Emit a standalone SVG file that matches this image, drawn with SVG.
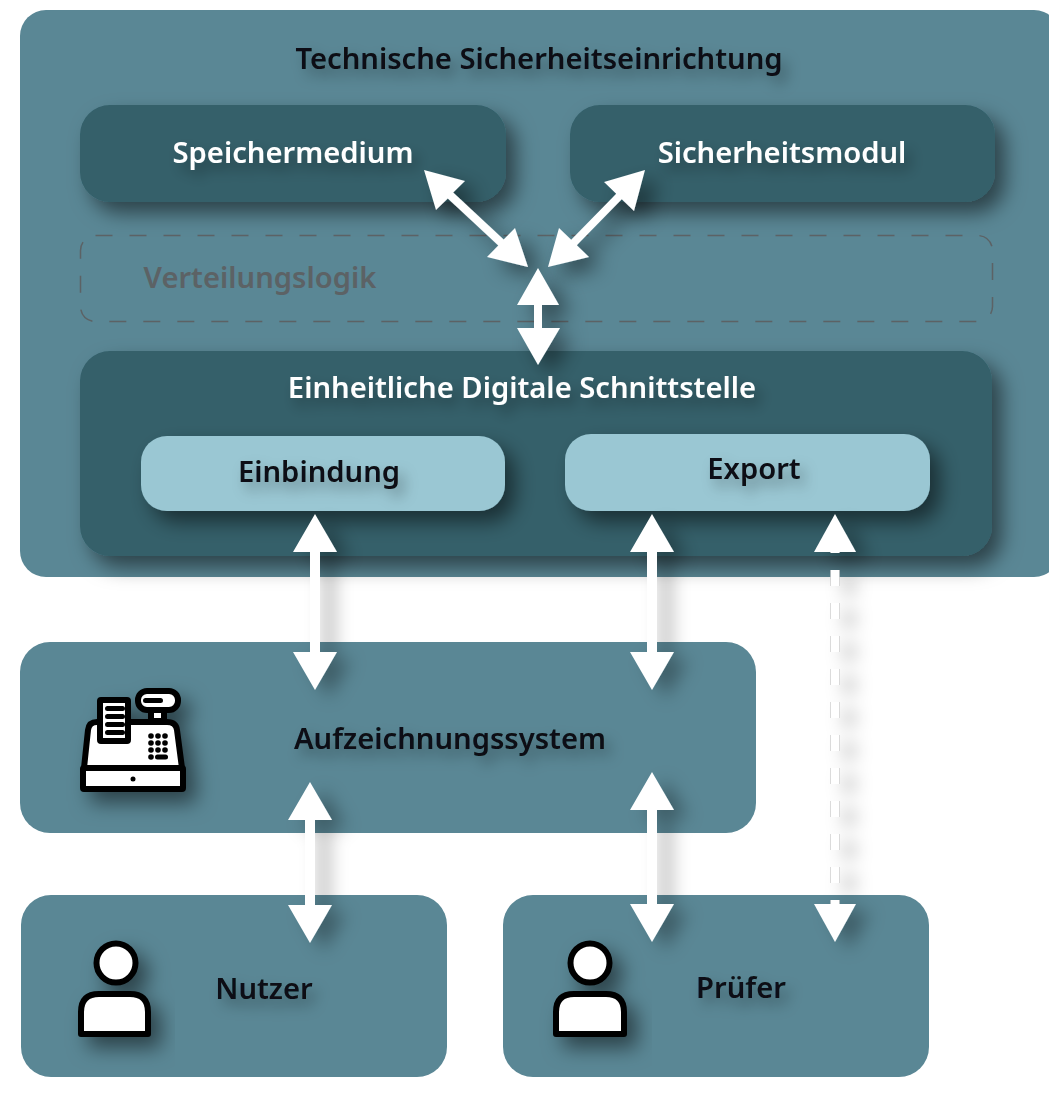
<svg xmlns="http://www.w3.org/2000/svg" width="1049" height="1096" viewBox="0 0 1049 1096">
<defs>
<filter id="sh" x="-30%" y="-40%" width="170%" height="200%"><feDropShadow dx="10" dy="11" stdDeviation="10" flood-color="#000" flood-opacity="0.5"/></filter>
<filter id="shs" x="-60%" y="-60%" width="240%" height="240%"><feDropShadow dx="12" dy="10" stdDeviation="10" flood-color="#000" flood-opacity="0.45"/></filter>
<filter id="sht" x="-20%" y="-60%" width="140%" height="260%"><feDropShadow dx="6" dy="8" stdDeviation="7" flood-color="#000" flood-opacity="0.35"/></filter>
<filter id="arr" x="-100%" y="-50%" width="400%" height="200%"><feDropShadow dx="14" dy="8" stdDeviation="9" flood-color="#000" flood-opacity="0.32"/></filter>
</defs>
<style>
.base{fill:#5a8795}
.dark{fill:#34606a;filter:url(#sh)}
.light{fill:#9ac7d3;filter:url(#sh)}
text{font-family:"Noto Sans","Open Sans","Liberation Sans",sans-serif;font-weight:600;text-anchor:middle;font-size:29.200px;filter:url(#sht)}
.w{fill:#fff}
.k{fill:#0a0f12}
.ico{fill:#fff;stroke:#000;stroke-width:6;stroke-linejoin:round}
.a{fill:#fff}
</style>
<g id="sicherheitseinrichtung">
<rect class="base" x="20" y="10" width="1040" height="567" rx="26"/>
<text class="k" x="539" y="69">Technische Sicherheitseinrichtung</text>
</g>
<g id="speichermedium">
<rect class="dark" x="80" y="105" width="426" height="97" rx="30"/>
<text class="w" x="293" y="163">Speichermedium</text>
</g>
<g id="sicherheitsmodul">
<rect class="dark" x="570" y="105" width="425" height="97" rx="30"/>
<text class="w" x="782" y="163">Sicherheitsmodul</text>
</g>
<g id="verteilungslogik">
<rect x="80.500" y="235.500" width="912" height="86" rx="15" fill="none" stroke="#5c6265" stroke-width="1.500" stroke-dasharray="17 17"/>
<text x="260" y="288" fill="#5c6265" style="filter:none">Verteilungslogik</text>
</g>
<g id="schnittstelle">
<rect class="dark" x="80" y="351" width="912" height="205" rx="30"/>
<text class="w" x="522" y="398">Einheitliche Digitale Schnittstelle</text>
</g>
<g id="einbindung">
<rect class="light" x="141" y="436" width="364" height="75" rx="26"/>
<text class="k" x="319" y="482">Einbindung</text>
</g>
<g id="export">
<rect class="light" x="565" y="434" width="365" height="77" rx="26"/>
<text class="k" x="754" y="479">Export</text>
</g>
<g id="aufzeichnungssystem">
<rect class="base" x="20" y="642" width="736" height="191" rx="30"/>
<text class="k" x="450" y="749">Aufzeichnungssystem</text>
<g filter="url(#sh)" transform="translate(60 660)">
<path class="ico" d="M24 108L28 70Q29 62 37 62H107Q116 62 117 70L122 108Z"/>
<rect class="ico" x="23" y="108" width="100" height="21" rx="1"/>
<circle cx="73" cy="119" r="2.500" fill="#000"/>
<rect class="ico" x="40" y="40" width="28" height="41" rx="1"/>
<rect x="45" y="46" width="20" height="5" rx="2.500"/><rect x="45" y="54" width="20" height="5" rx="2.500"/><rect x="45" y="62" width="20" height="5" rx="2.500"/><rect x="45" y="70" width="20" height="5" rx="2.500"/>
<rect class="ico" x="91" y="50" width="13" height="11" stroke-width="5"/>
<rect class="ico" x="78" y="31" width="40" height="19" rx="9"/>
<rect x="83" y="38" width="20" height="5" rx="2.500"/>
<g fill="#000"><circle cx="91" cy="76" r="2.800"/><circle cx="98" cy="76" r="2.800"/><circle cx="105" cy="76" r="2.800"/><circle cx="91" cy="83" r="2.800"/><circle cx="98" cy="83" r="2.800"/><circle cx="105" cy="83" r="2.800"/><circle cx="91" cy="90" r="2.800"/><circle cx="98" cy="90" r="2.800"/><circle cx="105" cy="90" r="2.800"/><circle cx="91" cy="97" r="2.800"/><rect x="95" y="94.500" width="13" height="5" rx="2.500"/></g>
</g>
</g>
<g id="nutzer">
<rect class="base" x="21" y="895" width="426" height="182" rx="30"/>
<text class="k" x="264" y="999">Nutzer</text>
<g filter="url(#sh)">
<circle class="ico" cx="116" cy="963" r="19.500"/>
<path class="ico" d="M81 1034V1012Q81 994 99 994H130Q148 994 148 1012V1034Z"/>
</g>
</g>
<g id="pruefer">
<rect class="base" x="503" y="895" width="426" height="182" rx="30"/>
<text class="k" x="741" y="998">Prüfer</text>
<g filter="url(#sh)">
<circle class="ico" cx="590" cy="963" r="19.500"/>
<path class="ico" d="M556 1034V1012Q556 994 574 994H606Q624 994 624 1012V1034Z"/>
</g>
</g>
<g id="connectors">
<path class="a" filter="url(#shs)" d="M424 170L465 181L453.200 192.600L503.700 239.600L515 228L528 267L487 257L498.300 245.400L447.800 198.400L436 210Z"/>
<path class="a" filter="url(#shs)" d="M645 170L634 211L621.800 199.300L576.800 245.300L589 257L548 267L559 228L571.200 239.700L616.200 193.700L604 182Z"/>
<path class="a" filter="url(#shs)" d="M538 268L559 305H542V328H560L538 365L517 328H534V305H517Z"/>
<path class="a" filter="url(#arr)" d="M315 514L337 552H320V652H337L315 690L293 652H310V552H293Z"/>
<path class="a" filter="url(#arr)" d="M652 514L674 552H657V652H674L652 690L630 652H647V552H630Z"/>
<path class="a" filter="url(#arr)" d="M310 782L332 820H315V905H332L310 943L288 905H305V820H288Z"/>
<path class="a" filter="url(#arr)" d="M652 772L674 810H657V904H674L652 942L630 904H647V810H630Z"/>
<g filter="url(#arr)">
<path class="a" d="M835 514L856 552H814Z"/>
<path d="M835 552V904" fill="none" stroke="#cfcfcf" stroke-width="9.500" stroke-dasharray="16 17" stroke-dashoffset="-18"/>
<path d="M835 552V904" fill="none" stroke="#fff" stroke-width="8" stroke-dasharray="16 17" stroke-dashoffset="-18"/>
<path class="a" d="M835 942L814 904H856Z"/>
</g>
</g>
</svg>
